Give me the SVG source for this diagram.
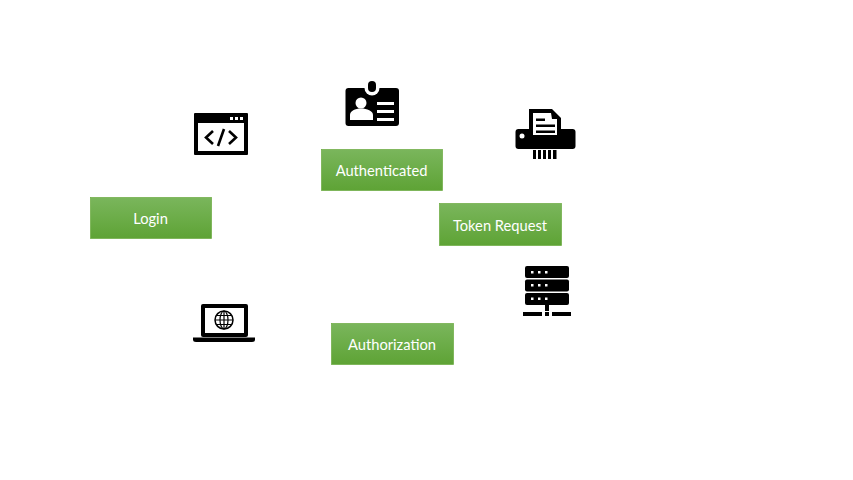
<svg xmlns="http://www.w3.org/2000/svg" width="853" height="480" viewBox="0 0 853 480">
<style>
.box{fill:url(#g);stroke:#70ad47;stroke-width:.75}
.lbl{font-family:Lato,"Open Sans",sans-serif;font-size:14.7px;fill:#fff;text-anchor:middle}
.k{fill:#000}.w{fill:#fff}
.wl{fill:none;stroke:#fff}.kl{fill:none;stroke:#000}
</style>
<defs><linearGradient id="g" x1="0" y1="0" x2="0" y2="1"><stop offset="0" stop-color="#7ab65c"/><stop offset="1" stop-color="#5ea335"/></linearGradient></defs>
<rect width="853" height="480" fill="#fff"/>
<g id="connectors"></g>
<g id="node-login"><rect class="box" x="90.500" y="197.500" width="121" height="41"/><text class="lbl" x="150.500" y="223.500">Login</text></g>
<g id="node-authenticated"><rect class="box" x="321.500" y="149.500" width="121" height="41"/><text class="lbl" x="381.500" y="175.500">Authenticated</text></g>
<g id="node-token-request"><rect class="box" x="439.500" y="203.500" width="122" height="42"/><text class="lbl" x="500" y="230.500">Token Request</text></g>
<g id="node-authorization"><rect class="box" x="331.500" y="323.500" width="122" height="41"/><text class="lbl" x="392" y="349.500">Authorization</text></g>
<g id="icon-code">
<rect class="k" x="194" y="113" width="54" height="42" rx="1"/>
<rect class="w" x="198" y="123" width="46" height="28"/>
<rect class="w" x="230" y="117" width="3" height="3"/><rect class="w" x="235" y="117" width="3" height="3"/><rect class="w" x="240" y="117" width="3" height="3"/>
<path class="kl" stroke-width="2.600" d="M213 131l-7 6.500 7 6.500M229 131l7 6.500-7 6.500M218 146l6-17"/>
</g>
<g id="icon-badge">
<rect class="k" x="345.500" y="88" width="53.500" height="38" rx="3"/>
<circle class="w" cx="372" cy="88" r="7.500"/>
<rect class="w" x="364" y="86" width="16" height="2"/>
<rect class="k" x="368" y="81" width="8" height="11" rx="4"/>
<circle class="w" cx="361" cy="103" r="5.500"/>
<path class="w" d="M350 120v-5c0-4 5-6.500 11-6.500s12 2.500 12 6.500v5z"/>
<path class="w" d="M377 102h17v3h-17zM377 110h17v3h-17zM377 118h17v3h-17z"/>
</g>
<g id="icon-shredder">
<path class="k" d="M529 109h23l9 9v14h-32z"/>
<path class="k" d="M518.500 129h54q3 0 3 3v14q0 3-3 3h-54q-3 0-3-3v-14q0-3 3-3z"/>
<path class="w" d="M533 113h18l1 6h5v16h-24z"/>
<path class="k" d="M536 118.500h9v2.500h-9zM536 124.500h19v2.500h-19zM536 130.500h19v2.500h-19z"/>
<circle class="w" cx="522" cy="136" r="2.500"/>
<path class="k" d="M533 150h3v9h-3zM538 150h3v9h-3zM543 150h3v9h-3zM548 150h3v9h-3zM553 150h3.500v9h-3.500z"/>
</g>
<g id="icon-server">
<rect class="k" x="525" y="266" width="44" height="12" rx="2"/>
<rect class="k" x="525" y="279.500" width="44" height="12" rx="2"/>
<rect class="k" x="525" y="293" width="44" height="12" rx="2"/>
<path class="w" d="M531 271h2.500v2.500h-2.500zM538 271h2.500v2.500h-2.500zM545 271h2.500v2.500h-2.500zM531 284h2.500v2.500h-2.500zM538 284h2.500v2.500h-2.500zM545 284h2.500v2.500h-2.500zM531 297.500h2.500v2.500h-2.500zM538 297.500h2.500v2.500h-2.500zM545 297.500h2.500v2.500h-2.500z"/>
<rect class="k" x="545" y="305" width="4" height="6"/>
<rect class="k" x="523" y="312" width="19" height="4"/><rect class="k" x="545" y="312" width="4" height="4"/><rect class="k" x="552" y="312" width="19" height="4"/>
</g>
<g id="icon-laptop">
<rect class="k" x="201" y="304" width="47" height="33" rx="2"/>
<rect class="w" x="205" y="308" width="39" height="25"/>
<circle class="kl" stroke-width="1.500" cx="224" cy="320" r="9"/>
<ellipse class="kl" stroke-width="1.200" cx="224" cy="320" rx="4" ry="9"/>
<path class="kl" stroke-width="1.200" d="M224 311v18M215 320h18M217 315.500h14M217 324.500h14"/>
<path class="k" d="M193 337.500h62v2q0 2.500-3 2.500h-56q-3 0-3-2.500z"/>
</g>
</svg>
